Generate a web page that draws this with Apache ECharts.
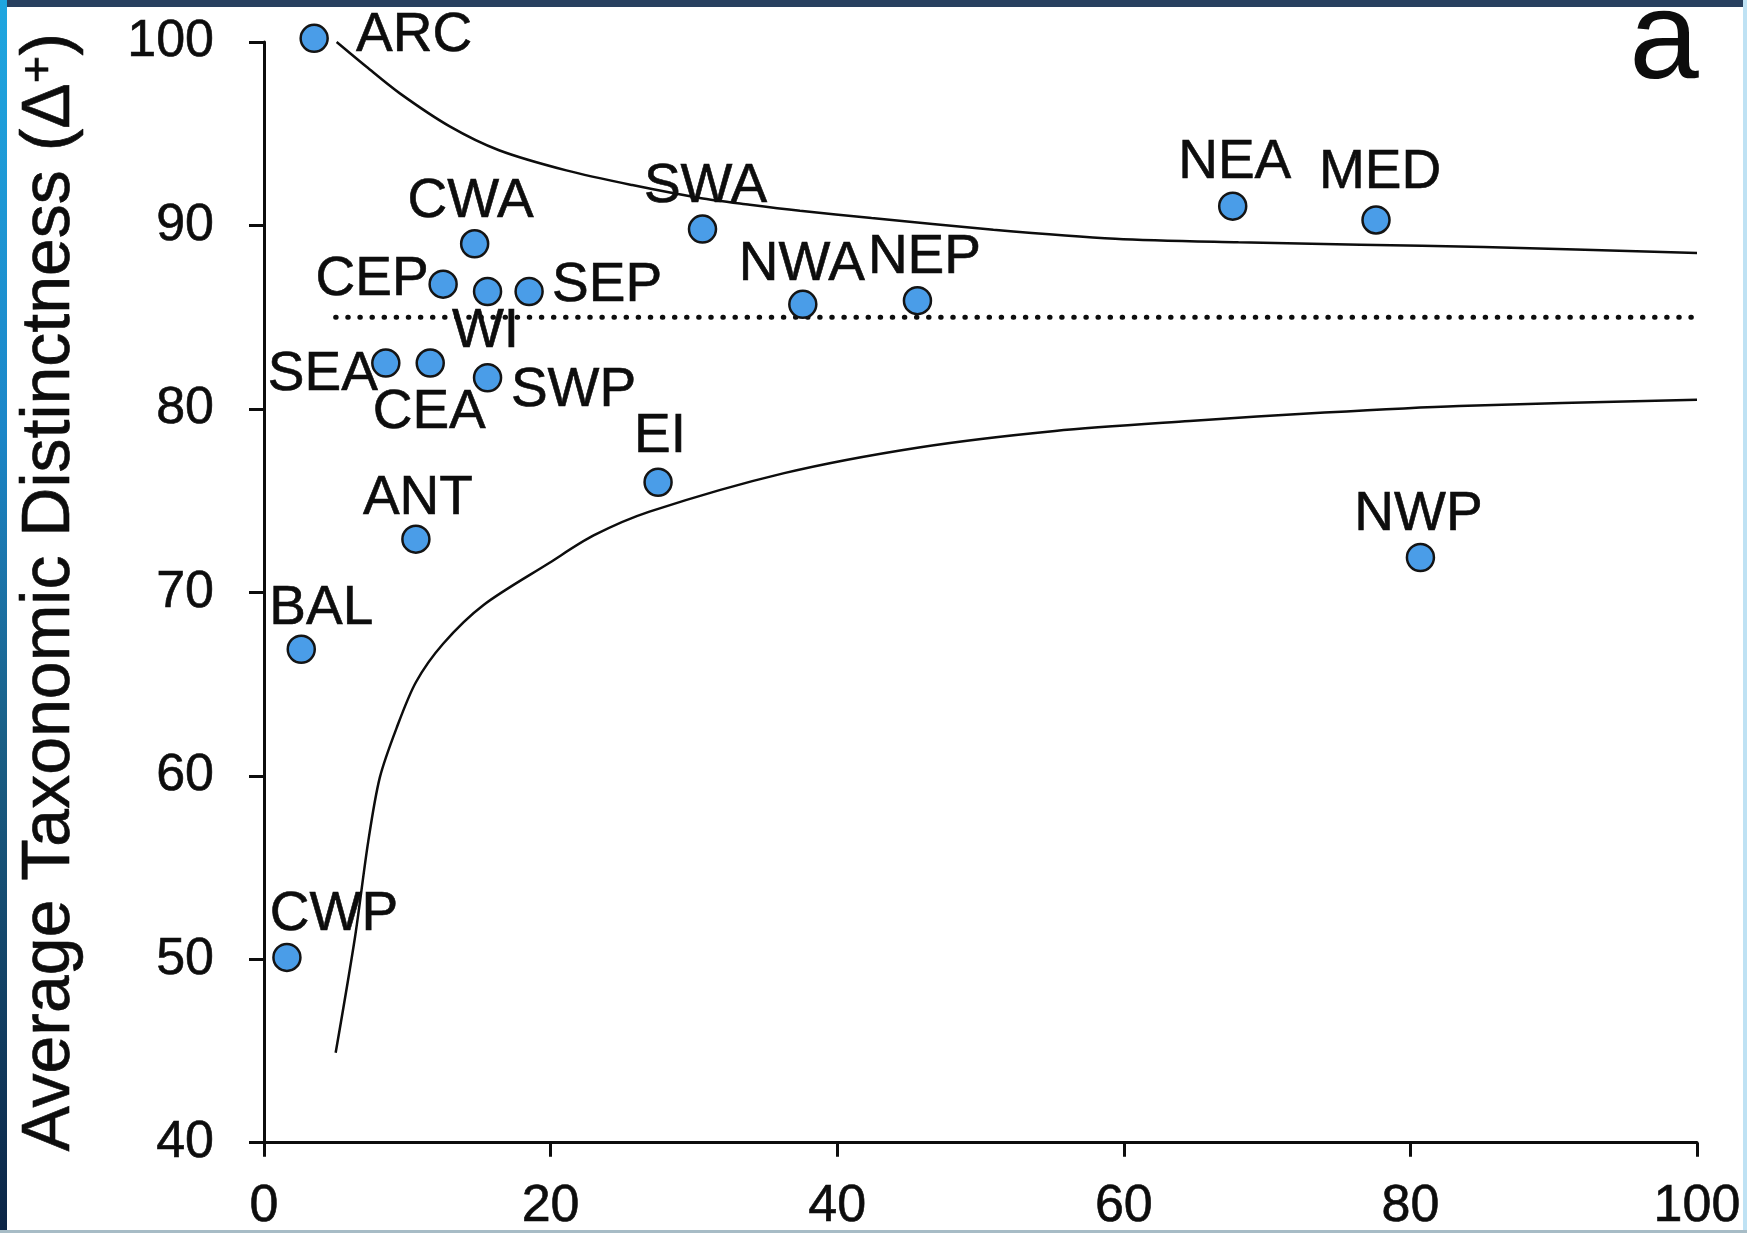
<!DOCTYPE html>
<html>
<head>
<meta charset="utf-8">
<title>Average Taxonomic Distinctness</title>
<script src="https://cdn.jsdelivr.net/npm/echarts@6/dist/echarts.min.js"></script>
<style>
  html, body { margin: 0; padding: 0; background: #ffffff; }
  #chart { width: 1747px; height: 1233px; }
</style>
</head>
<body>
<div id="chart"></div>
<script>
// Regions and their (x, Δ+) values
const regions = ['ARC', 'CWA', 'CEP', 'WI', 'SEP', 'SWA', 'NWA', 'NEP', 'NEA', 'MED',
                 'SEA', 'CEA', 'SWP', 'EI', 'ANT', 'NWP', 'BAL', 'CWP'];
const xValues = [3.5, 14.7, 12.5, 15.6, 18.5, 30.6, 37.6, 45.6, 67.6, 77.6,
                 8.5, 11.6, 15.6, 27.5, 10.6, 80.7, 2.6, 1.6];
const deltaPlus = [100.2, 89.0, 86.8, 86.4, 86.4, 89.8, 85.7, 85.9, 91.05, 90.3,
                   82.5, 82.5, 81.7, 76.0, 72.9, 71.9, 66.9, 50.1];

// 95% probability funnel: upper and lower limits
const upperX = [5.07, 7.15, 9.48, 12.96, 16.4, 21.1, 25.7, 30.4, 33.9, 37.4, 42.4, 50.9, 59.4, 68, 76.5, 85.1, 100];
const upperY = [100.0, 98.65, 97.2, 95.4, 94.1, 93.0, 92.2, 91.5, 91.13, 90.8, 90.4, 89.77, 89.28, 89.08, 88.95, 88.83, 88.5];
const lowerX = [5.0, 6.35, 7.27, 8.08, 9.25, 10.6, 12.5, 15.3, 19.9, 23.0, 26.9, 36.3, 45.7, 55.2, 64.6, 74, 83.4, 100];
const lowerY = [44.9, 51.2, 56.4, 59.9, 62.6, 65.1, 67.2, 69.3, 71.6, 73.1, 74.4, 76.5, 77.9, 78.8, 79.34, 79.8, 80.16, 80.5];

// Expected (mean) Δ+
const meanX = [5, 100];
const meanY = [85, 85];

// Axis ticks
const xTicks = [0, 20, 40, 60, 80, 100];
const yTicks = [40, 50, 60, 70, 80, 90, 100];

// Label placement around each marker (pixels)
const labelOffsets = {
  ARC: [100, -3], CWA: [-4, -42], CEP: [-71, -4], WI: [-2, 40], SEP: [78, -6],
  SWA: [3, -42], NWA: [-1, -40], NEP: [7, -43], NEA: [2, -43], MED: [4, -47],
  SEA: [-63, 12], CEA: [-1, 50], SWP: [86, 13], EI: [2, -45], ANT: [2, -40],
  NWP: [-2, -43], BAL: [20, -40], CWP: [47, -43]
};

const FONT = '"Liberation Sans", Arial, Helvetica, sans-serif';
const INK = '#0d0d0d';

const zip = (xs, ys) => xs.map((x, i) => [x, ys[i]]);

const chart = echarts.init(document.getElementById('chart'), null, { renderer: 'canvas' });

chart.setOption({
  animation: false,
  backgroundColor: '#ffffff',
  grid: { left: 264, right: 50, top: 42, bottom: 88, containLabel: false },
  xAxis: {
    type: 'value',
    min: xTicks[0], max: xTicks[xTicks.length - 1], interval: 20,
    splitLine: { show: false },
    axisLine: { show: true, onZero: false, lineStyle: { color: INK, width: 3 } },
    axisTick: { show: true, length: 14, lineStyle: { color: INK, width: 3 } },
    axisLabel: { fontSize: 52, fontFamily: FONT, color: INK, margin: 38,
                 textBorderColor: INK, textBorderWidth: 0.6 }
  },
  yAxis: {
    type: 'value',
    min: yTicks[0], max: yTicks[yTicks.length - 1], interval: 10,
    splitLine: { show: false },
    axisLine: { show: true, onZero: false, lineStyle: { color: INK, width: 3 } },
    axisTick: { show: true, length: 15, lineStyle: { color: INK, width: 3 } },
    axisLabel: { fontSize: 52, fontFamily: FONT, color: INK, margin: 50,
                 textBorderColor: INK, textBorderWidth: 0.6 },
    name: '{t|Average Taxonomic Distinctness (Δ}{sup|+}{t|)}',
    nameLocation: 'middle',
    nameGap: 180,
    nameTextStyle: {
      fontFamily: FONT, color: INK,
      rich: {
        t: { fontSize: 68, fontFamily: FONT, color: INK, textBorderColor: INK, textBorderWidth: 0.6 },
        sup: { fontSize: 47, fontFamily: FONT, color: INK, lineHeight: 40, verticalAlign: 'top',
               textBorderColor: INK, textBorderWidth: 0.6 }
      }
    }
  },
  graphic: [
    // panel letter
    { type: 'text', x: 1664, y: 44, z: 10,
      style: { text: 'a', font: '125px ' + FONT, fill: INK, align: 'center', verticalAlign: 'middle' } },
    // frame edges
    { type: 'rect', shape: { x: 0, y: 0, width: 1747, height: 7 }, style: { fill: '#28405f' }, z: 20 },
    { type: 'rect', shape: { x: 0, y: 0, width: 7, height: 1233 }, z: 20,
      style: { fill: new echarts.graphic.LinearGradient(0, 0, 0, 1, [
        { offset: 0, color: '#1fa6e0' },
        { offset: 0.35, color: '#1b86c8' },
        { offset: 0.6, color: '#1a5f86' },
        { offset: 1, color: '#0b2445' }
      ]) } },
    { type: 'rect', shape: { x: 1743, y: 0, width: 4, height: 1233 }, style: { fill: '#bfe2f4' }, z: 20 },
    { type: 'rect', shape: { x: 0, y: 1230, width: 1747, height: 3 }, style: { fill: '#a7bcc6' }, z: 20 }
  ],
  series: [
    {
      name: 'Upper limit', type: 'line', data: zip(upperX, upperY),
      smooth: 0.3, showSymbol: false, symbol: 'none',
      lineStyle: { color: INK, width: 2.5 }, z: 2
    },
    {
      name: 'Lower limit', type: 'line', data: zip(lowerX, lowerY),
      smooth: 0.3, showSymbol: false, symbol: 'none',
      lineStyle: { color: INK, width: 2.5 }, z: 2
    },
    {
      name: 'Mean', type: 'line', data: zip(meanX, meanY),
      showSymbol: false, symbol: 'none',
      lineStyle: { color: INK, width: 5, type: [0.5, 11.6], cap: 'round' }, z: 2
    },
    {
      name: 'Regions', type: 'scatter', z: 5, clip: false,
      symbol: 'circle', symbolSize: 27,
      itemStyle: { color: '#4a9de8', borderColor: '#141414', borderWidth: 2.5, opacity: 1 },
      label: {
        show: true, position: 'inside', formatter: '{b}',
        fontSize: 55, fontFamily: FONT, color: INK, opacity: 1,
        textBorderColor: INK, textBorderWidth: 0.6
      },
      data: regions.map((n, i) => ({
        name: n,
        value: [xValues[i], deltaPlus[i]],
        label: { offset: labelOffsets[n] }
      }))
    }
  ]
});
</script>
</body>
</html>
